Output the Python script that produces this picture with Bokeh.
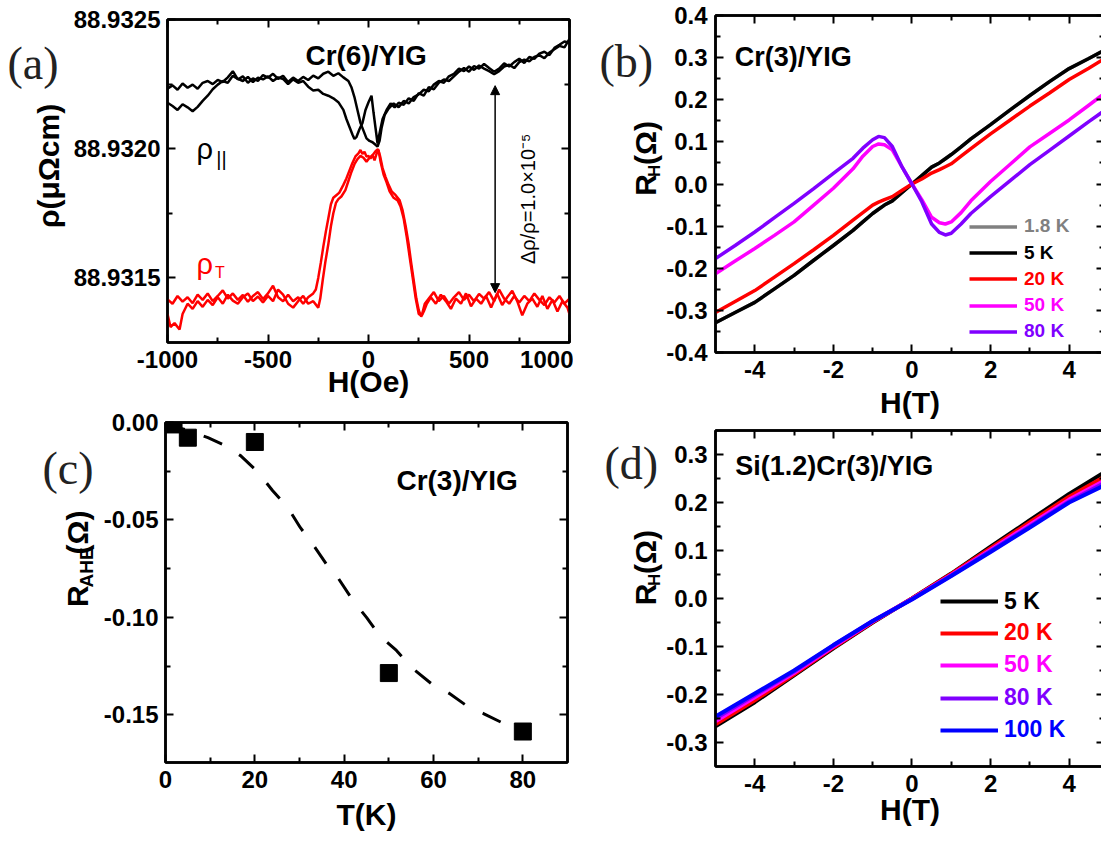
import math
from bokeh.plotting import figure
from bokeh.layouts import row, column
from bokeh.models import (FixedTicker, PrintfTickFormatter, LinearAxis, Label, Legend,
                          LegendItem, Arrow, NormalHead, Range1d, CustomLabelingPolicy)
from bokeh.embed import file_html
from bokeh.resources import INLINE

FONT = "Liberation Sans"
SERIF = "Liberation Serif"

# ---------------- panel (a) data : rho in uOhm cm, stored as (rho - 88.932) x 1e6 ----------------
RHO_BASE = 88.932
H_par_1 = [-1000,-975,-950,-925,-900,-875,-850,-825,-800,-775,-750,-725,-700,-675,-650,-625,-600,-575,
           -550,-525,-500,-475,-450,-425,-400,-375,-350,-325,-300,-275,-250,-225,-200,-175,-150,-125,-100,
           -85,-70,-55,-40,-25,-10,5,20,35,45,55,65,80,100,
           125,150,175,200,225,250,275,300,325,350,375,400,425,450,475,500,525,550,575,600,625,650,675,
           700,725,750,775,800,825,850,875,900,925,950,975,1000]
rho_par_1 = [232,245,228,252,236,248,232,255,262,250,266,258,276,300,268,280,255,272,262,285,
             275,290,270,282,258,275,262,278,266,283,272,290,298,282,292,276,262,
             238,200,150,100,70,40,30,25,15,8,30,80,130,155,
             175,160,185,175,200,210,228,222,248,262,255,280,290,310,300,318,305,322,310,300,
             288,300,318,325,312,335,345,338,355,362,350,372,385,398,392,425]
H_par_2 = [-1000,-975,-950,-925,-900,-875,-850,-825,-800,-775,-750,-725,-700,-675,-650,-625,-600,-575,
           -550,-525,-500,-475,-450,-425,-400,-375,-350,-325,-300,-275,-250,-225,-200,-175,-150,
           -125,-110,-95,-80,-70,-60,-45,-30,-15,0,15,25,35,45,55,70,90,110,130,150,
           175,200,225,250,275,300,325,350,375,400,425,450,475,500,525,550,575,600,625,650,675,700,
           725,750,775,800,825,850,875,900,925,950,975,1000]
rho_par_2 = [178,165,150,172,160,145,162,185,205,230,248,262,255,282,270,262,278,258,275,268,
             280,262,276,270,250,268,255,262,240,225,228,212,205,195,180,
             150,115,85,55,38,45,75,100,150,180,205,140,80,20,60,115,150,175,160,178,
             170,195,185,215,205,238,230,255,268,262,280,298,312,298,320,310,328,312,298,310,
             330,318,335,348,332,355,348,368,375,362,390,402,415,410]
H_perp_1 = [-1000,-975,-950,-925,-900,-875,-850,-825,-800,-775,-750,-725,-700,-675,-650,-625,-600,-575,
            -550,-525,-500,-475,-450,-425,-400,-375,-350,-325,-300,
            -275,-262,-250,-237,-225,-212,-200,-187,-175,-160,-145,-125,-110,-95,-80,-65,-50,-40,-30,-20,
            -10,0,10,20,30,40,50,60,75,90,105,125,145,160,175,190,205,220,235,250,265,280,
            300,325,350,375,400,425,450,475,500,525,550,575,600,625,650,675,700,725,750,775,800,825,850,
            875,900,925,950,975,1000]
rho_perp_1 = [-583,-600,-570,-592,-575,-598,-565,-585,-560,-590,-570,-548,-580,-560,-585,-566,-592,-570,
              -555,-582,-560,-530,-575,-590,-565,-590,-575,-600,-575,
              -560,-545,-500,-440,-380,-320,-270,-215,-190,-180,-170,-140,-115,-85,-55,-30,-18,-5,-20,-12,
              -30,-28,-38,-25,-45,-20,-5,-50,-100,-130,-165,-190,-200,-225,-270,-340,-420,-500,-580,-640,
              -645,-600,
              -580,-555,-590,-570,-600,-575,-555,-585,-565,-590,-562,-580,-555,-590,-545,-580,-600,-570,
              -595,-570,-590,-560,-585,-605,-575,-595,-570,-600,-580]
H_perp_2 = [-1000,-985,-965,-940,-925,-900,-875,-850,-825,-800,-775,-750,-725,-700,-675,-650,-625,-600,
            -575,-550,-525,-500,-475,-450,-425,-400,-375,-350,-325,-300,-275,-250,
            -240,-228,-215,-200,-187,-175,-162,-150,-135,-115,-100,-85,-70,-55,-40,-25,-10,5,20,35,
            47,58,70,85,100,115,135,155,170,185,200,212,225,238,250,262,275,290,310,335,
            360,385,410,435,460,485,510,535,560,585,610,640,665,690,715,740,765,790,815,840,
            865,890,915,940,965,990,1000]
rho_perp_2 = [-640,-690,-675,-700,-640,-600,-620,-590,-612,-585,-605,-575,-600,-565,-588,-600,-575,-560,
              -590,-572,-595,-570,-590,-545,-565,-600,-615,-590,-570,-600,-590,-615,
              -580,-510,-440,-370,-300,-250,-210,-195,-185,-160,-125,-90,-60,-40,-28,-35,-50,-35,-25,-10,
              -2,-30,-75,-110,-140,-165,-180,-200,-240,-300,-370,-440,-510,-580,-625,-650,-630,-600,-575,-600,
              -565,-590,-620,-580,-600,-560,-610,-580,-600,-570,-615,-560,-605,-575,-550,-590,-645,-600,-580,-612,
              -570,-620,-585,-630,-590,-615,-640]
arrow_H = 630
arrow_top = 88.932244
arrow_bottom = 88.931443

# ---------------- panel (b) data ----------------
H_b = [-5,-4.5,-4,-3.5,-3,-2.5,-2,-1.5,-1.25,-1,-0.85,-0.7,-0.5,-0.25,0,
       0.25,0.5,0.7,0.85,1,1.25,1.5,2,2.5,3,3.5,4,4.5,5]
RH_b_1p8K = [-0.329,-0.305,-0.281,-0.249,-0.217,-0.181,-0.146,-0.110,-0.090,-0.070,-0.060,-0.050,-0.040,-0.020,0.0,
             0.020,0.040,0.050,0.060,0.070,0.088,0.107,0.141,0.176,0.210,0.243,0.274,0.298,0.323]
RH_b_5K = [-0.329,-0.305,-0.281,-0.249,-0.217,-0.181,-0.146,-0.110,-0.090,-0.070,-0.060,-0.050,-0.040,-0.020,0.0,
           0.020,0.040,0.050,0.060,0.070,0.088,0.107,0.141,0.176,0.210,0.243,0.274,0.298,0.323]
RH_b_20K = [-0.305,-0.279,-0.253,-0.221,-0.189,-0.156,-0.122,-0.086,-0.068,-0.050,-0.043,-0.037,-0.030,-0.015,0.0,
            0.012,0.026,0.034,0.041,0.048,0.066,0.084,0.119,0.152,0.185,0.216,0.248,0.275,0.303]
RH_b_50K = [-0.213,-0.183,-0.153,-0.122,-0.090,-0.050,-0.010,0.036,0.066,0.089,0.095,0.093,0.081,0.040,0.0,
            -0.037,-0.079,-0.092,-0.095,-0.090,-0.068,-0.040,0.006,0.047,0.088,0.120,0.152,0.187,0.222]
RH_b_80K = [-0.177,-0.146,-0.114,-0.080,-0.046,-0.011,0.025,0.061,0.085,0.105,0.113,0.110,0.089,0.040,0.0,
            -0.042,-0.095,-0.115,-0.121,-0.117,-0.095,-0.070,-0.030,0.008,0.046,0.080,0.114,0.148,0.181]
labels_b = ["1.8 K", "5 K", "20 K", "50 K", "80 K"]
colors_b = ["#808080", "#000000", "#FF0000", "#FF00FF", "#8000FF"]

# ---------------- panel (c) data ----------------
T_c = [1.8, 5, 20, 50, 80]
RAHE_c = [-0.001, -0.0078, -0.0100, -0.1286, -0.1586]
T_guide = [0, 5, 9.5, 12.8, 16.8, 20.5, 24, 27.4, 30.2, 33, 36, 38.7, 42, 45, 48, 51.7, 55.4, 59.5, 63.5, 67.2, 71.3, 75.3]
RAHE_guide = [-0.001, -0.004, -0.0078, -0.0112, -0.017, -0.025, -0.035, -0.0437, -0.054, -0.0625, -0.0726,
              -0.080, -0.0915, -0.100, -0.1095, -0.117, -0.1264, -0.134, -0.139, -0.145, -0.1495, -0.154]

# ---------------- panel (d) data ----------------
H_d = [-5, -4, -3, -2, -1, 0, 1, 2, 3, 4, 5]
RH_d_5K = [-0.266, -0.216, -0.160, -0.104, -0.050, 0.0, 0.052, 0.108, 0.163, 0.218, 0.268]
RH_d_20K = [-0.262, -0.212, -0.158, -0.102, -0.049, 0.0, 0.051, 0.105, 0.159, 0.212, 0.258]
RH_d_50K = [-0.256, -0.206, -0.155, -0.100, -0.048, -0.001, 0.049, 0.101, 0.154, 0.206, 0.250]
RH_d_80K = [-0.250, -0.201, -0.152, -0.098, -0.047, -0.001, 0.048, 0.099, 0.150, 0.202, 0.245]
RH_d_100K = [-0.246, -0.198, -0.150, -0.097, -0.047, -0.002, 0.047, 0.097, 0.148, 0.200, 0.240]
labels_d = ["5 K", "20 K", "50 K", "80 K", "100 K"]
colors_d = ["#000000", "#FF0000", "#FF00FF", "#8000FF", "#0000FF"]


def make_fig(fw, fh, bl, br, bt, bb, xr, yr):
    p = figure(frame_width=fw, frame_height=fh, min_border_left=bl, min_border_right=br,
               min_border_top=bt, min_border_bottom=bb, x_range=Range1d(*xr), y_range=Range1d(*yr),
               output_backend="svg", toolbar_location=None)
    p.outline_line_color = "black"
    p.outline_line_width = 2.5
    p.xgrid.visible = False
    p.ygrid.visible = False
    p.background_fill_color = "white"
    p.border_fill_color = "white"
    return p


def helper(w, h):
    p = figure(width=w, height=h, x_range=Range1d(0, w), y_range=Range1d(0, h),
               x_axis_type=None, y_axis_type=None, min_border_left=0, min_border_right=0,
               min_border_top=0, min_border_bottom=0, output_backend="svg", toolbar_location=None)
    p.outline_line_color = None
    p.background_fill_color = "white"
    p.border_fill_color = "white"
    return p


def style_axes(p, xmaj, xmin, ymaj, ymin, xfmt, yfmt, xlabel, xls, ystand=7):
    top = LinearAxis()
    right = LinearAxis()
    p.add_layout(top, "above")
    p.add_layout(right, "right")
    bottom = p.below[0]
    left = p.left[0]
    for ax, maj, mn, fmt, shown, st in [(bottom, xmaj, xmin, xfmt, True, 8),
                                        (top, xmaj, xmin, xfmt, False, 0),
                                        (left, ymaj, ymin, yfmt, True, ystand),
                                        (right, ymaj, ymin, yfmt, False, 0)]:
        ax.ticker = FixedTicker(ticks=maj, minor_ticks=mn)
        ax.formatter = PrintfTickFormatter(format=fmt)
        ax.major_tick_in = 8
        ax.major_tick_out = 0
        ax.minor_tick_in = 5
        ax.minor_tick_out = 0
        ax.major_tick_line_width = 2
        ax.minor_tick_line_width = 2
        ax.axis_line_width = 2.5
        ax.major_label_text_font = FONT
        ax.major_label_text_font_style = "bold"
        ax.major_label_text_color = "black"
        if shown:
            ax.major_label_text_font_size = "24px"
            ax.major_label_standoff = st
        else:
            ax.major_label_text_font_size = "0px"
            ax.major_label_standoff = 0
            ax.major_label_policy = CustomLabelingPolicy(code="for (const i of indices) indices.unset(i)")
    bottom.axis_label = xlabel
    bottom.axis_label_text_font = FONT
    bottom.axis_label_text_font_style = "bold"
    bottom.axis_label_text_font_size = "30px"
    bottom.axis_label_text_color = "black"
    bottom.axis_label_standoff = xls


def lab(p, x, y, text, size, angle=0.0, align="left", baseline="alphabetic",
        color="black", font=FONT, style="bold"):
    p.add_layout(Label(x=x, y=y, text=text,
                       text_font_size=f"{size}px", text_font=font, text_font_style=style,
                       text_color=color, angle=angle, text_align=align, text_baseline=baseline))


def one_legend(p, renderer, text, color, vx, vy, size, gw, gh, standoff):
    leg = Legend(items=[LegendItem(label=text, renderers=[renderer])], location=(vx, vy),
                 background_fill_alpha=0, border_line_alpha=0, padding=0, margin=0, spacing=0,
                 glyph_width=gw, glyph_height=gh, label_height=gh, label_standoff=standoff,
                 label_text_font=FONT, label_text_font_style="bold", label_text_font_size=f"{size}px",
                 label_text_color=color)
    p.add_layout(leg)


R90 = math.pi / 2

# ================= (a) =================
pa = make_fig(402, 323, 94, 4, 19, 66, (-1000, 1000), (88.93125, 88.9325))
style_axes(pa, [-1000, -500, 0, 500, 1000], [-750, -250, 250, 750],
           [88.9315, 88.932, 88.9325], [88.93175, 88.93225], "%d", "%.4f", "H(Oe)", -6)
for Hs, vals, col in [(H_par_1, rho_par_1, "black"), (H_par_2, rho_par_2, "black"),
                      (H_perp_1, rho_perp_1, "#FF0000"), (H_perp_2, rho_perp_2, "#FF0000")]:
    pa.line(Hs, [RHO_BASE + v * 1e-6 for v in vals], line_color=col, line_width=2.5)
pa.add_layout(Arrow(start=NormalHead(size=9, fill_color="black", line_color="black"),
                    end=NormalHead(size=9, fill_color="black", line_color="black"),
                    x_start=arrow_H, y_start=arrow_top, x_end=arrow_H, y_end=arrow_bottom,
                    line_width=1.5, line_color="black"))
lab(pa, 792, 88.931806, "\u0394\u03c1/\u03c1=1.0\u00d710\u207b\u2075", 20, angle=R90,
    align="center", baseline="middle", style="normal")
lab(pa, -12, 88.93236, "Cr(6)/YIG", 28, align="center")
lab(pa, -856, 88.93200, "\u03c1", 29, style="normal")
lab(pa, -757, 88.931962, "||", 20, style="normal")
lab(pa, -856, 88.931554, "\u03c1", 29, style="normal", color="#FF0000")
lab(pa, -764, 88.931519, "T", 16, style="normal", color="#FF0000")

ha = helper(70, 408)
lab(ha, 7, 352, "(a)", 46, font=SERIF, style="normal", color="#222222")
lab(ha, 48, 223, "\u03c1(\u03bc\u03a9cm)", 30, angle=R90, align="center", baseline="middle")

# ================= (b) =================
pb = make_fig(389, 337, 51, 1, 15, 74, (-5, 4.9), (-0.4, 0.4))
style_axes(pb, [-4, -2, 0, 2, 4], [-3, -1, 1, 3],
           [-0.4, -0.3, -0.2, -0.1, 0.0, 0.1, 0.2, 0.3, 0.4],
           [-0.35, -0.25, -0.15, -0.05, 0.05, 0.15, 0.25, 0.35], "%d", "%.1f", "H(T)", 5, ystand=8)
rb = []
for vals, col in zip([RH_b_1p8K, RH_b_5K, RH_b_20K, RH_b_50K, RH_b_80K], colors_b):
    rb.append(pb.line(H_b, vals, line_color=col, line_width=3.5))
for i, (r, t, c) in enumerate(zip(rb, labels_b, colors_b)):
    vy = [114.8, 88.2, 62.2, 35.8, 9.8][i]
    one_legend(pb, r, t, c, 254, vy, 19, 48, 21, 7)
lab(pb, -4.51, 0.301, "Cr(3)/YIG", 27)

hb = helper(90, 426)
lab(hb, 26, 368, "(b)", 46, font=SERIF, style="normal", color="#222222")
lab(hb, 72, 198, "R", 30, angle=R90)
lab(hb, 81, 222, "H", 17, angle=R90)
lab(hb, 72, 237, "(\u03a9)", 30, angle=R90)

# ================= (c) =================
pc = make_fig(402, 340, 69, 3, 14, 81, (0, 90), (-0.1745, 0.0))
style_axes(pc, [0, 20, 40, 60, 80], [10, 30, 50, 70],
           [-0.15, -0.10, -0.05, 0.0], [-0.125, -0.075, -0.025], "%d", "%.2f", "T(K)", 7)
pc.line(T_guide, RAHE_guide, line_color="black", line_width=3, line_dash="20 20")
pc.scatter(T_c, RAHE_c, marker="square", size=17, color="black")
lab(pc, 51.7, -0.030, "Cr(3)/YIG", 28)

hc = helper(96, 435)
lab(hc, 42, 376, "(c)", 46, font=SERIF, style="normal", color="#222222")
lab(hc, 77, 199, "R", 30, angle=R90)
lab(hc, 86, 224, "AHE", 19, angle=R90)
lab(hc, 77, 266, "(\u03a9)", 30, angle=R90)

# ================= (d) =================
pd_ = make_fig(389, 336, 51, 1, 4, 77, (-5, 4.9), (-0.35, 0.35))
style_axes(pd_, [-4, -2, 0, 2, 4], [-3, -1, 1, 3],
           [-0.3, -0.2, -0.1, 0.0, 0.1, 0.2, 0.3],
           [-0.25, -0.15, -0.05, 0.05, 0.15, 0.25], "%d", "%.1f", "H(T)", -2, ystand=8)
rd = []
for vals, col in zip([RH_d_5K, RH_d_20K, RH_d_50K, RH_d_80K, RH_d_100K], colors_d):
    rd.append(pd_.line(H_d, vals, line_color=col, line_width=4))
for i, (r, t, c) in enumerate(zip(rd, labels_d, colors_d)):
    vy = [151.3, 119.7, 88.0, 54.7, 23.0][i]
    one_legend(pd_, r, t, c, 225, vy, 23, 58, 26, 6)
lab(pd_, -4.50, 0.276, "Si(1.2)Cr(3)/YIG", 27)

hd = helper(90, 417)
lab(hd, 31, 376, "(d)", 46, font=SERIF, style="normal", color="#222222")
lab(hd, 72, 200, "R", 30, angle=R90)
lab(hd, 81, 224, "H", 17, angle=R90)
lab(hd, 72, 239, "(\u03a9)", 30, angle=R90)

layout = row(column(row(ha, pa), row(hc, pc)), column(row(hb, pb), row(hd, pd_)))
open("out.html", "w").write(file_html(layout, INLINE))
